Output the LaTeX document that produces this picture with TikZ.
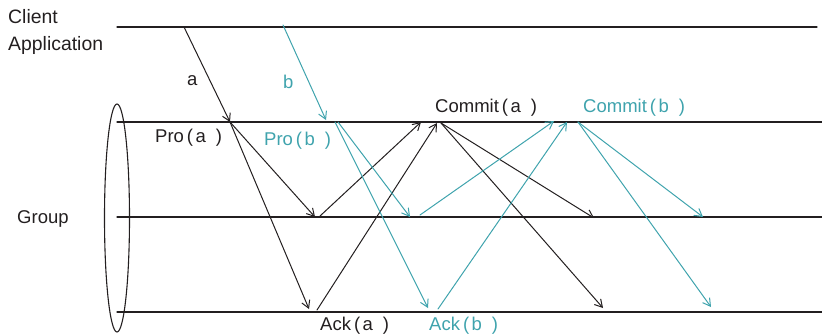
\documentclass[tikz,border=0pt]{standalone}
\usepackage{fontspec}
\setmainfont{Liberation Sans}
\usetikzlibrary{arrows.meta}
\definecolor{ink}{HTML}{231F20}
\definecolor{tealmsg}{HTML}{3FA3AD}
\newcommand{\msgname}[2]{#1\hspace{3pt}(\hspace{2.5pt}#2\hspace{10pt})}
\tikzset{
  seq diagram/.style={
    x=1pt, y=-1pt,
    font=\fontsize{18.5}{27}\selectfont,
    line cap=round
  },
  timeline/.style={draw=ink, line width=1.3pt},
  msgarrow/.style={-{Straight Barb[length=2.6mm,width=3mm]}, draw=ink, line width=1pt},
  bmsgarrow/.style={msgarrow, draw=tealmsg},
  lbl/.style={anchor=base west, inner sep=0pt, text=ink},
  blbl/.style={lbl, text=tealmsg},
  biglbl/.style={lbl, font=\fontsize{19.4}{27}\selectfont}
}
\begin{document}
\begin{tikzpicture}[seq diagram]
\useasboundingbox (0,0) rectangle (822,333);
\coordinate (c0) at (117,27);  \coordinate (c1) at (817,27);
\coordinate (g10) at (117,122); \coordinate (g11) at (822,122);
\coordinate (g20) at (117,217); \coordinate (g21) at (822,217);
\coordinate (g30) at (117,312); \coordinate (g31) at (822,312);
\draw[timeline] (c0) -- (c1);
\draw[timeline] (g10) -- (g11);
\draw[timeline] (g20) -- (g21);
\draw[timeline] (g30) -- (g31);
\draw[ink, line width=1.1pt] (117,218) ellipse (12.5 and 114);
\node[biglbl] (client) at (8,23) {Client};
\node[biglbl] (app) at (8,50) {Application};
\node[lbl] (group) at (17,223) {Group};
\coordinate (senda) at (184,27);
\coordinate (proa) at (230,122);
\coordinate (g2a) at (315,217);
\coordinate (g3a) at (309,309);
\coordinate (acka2) at (320,216);
\coordinate (acka3) at (317,310);
\coordinate (comain) at (421,122);
\coordinate (comaout) at (437,123);
\coordinate (comaend) at (441,123);
\coordinate (coma2) at (594,218);
\coordinate (coma3) at (603,308);
\draw[msgarrow] (senda) -- (proa);
\draw[msgarrow] (proa) -- (g2a);
\draw[msgarrow] (proa) -- (g3a);
\draw[msgarrow] (acka2) -- (comain);
\draw[msgarrow] (acka3) -- (comaout);
\draw[msgarrow] (comaend) -- (coma2);
\draw[msgarrow] (comaend) -- (coma3);
\coordinate (sendb) at (283,25);
\coordinate (recb) at (326,120);
\coordinate (prob1) at (338,122);
\coordinate (prob2) at (335,122);
\coordinate (g2b) at (410,217);
\coordinate (g3b) at (428,308);
\coordinate (ackb2) at (420,215);
\coordinate (ackb3) at (438,309);
\coordinate (combin) at (554,121);
\coordinate (combout) at (567,122);
\coordinate (combend) at (578,122);
\coordinate (comb2) at (703,217);
\coordinate (comb3) at (711,307);
\draw[bmsgarrow] (sendb) -- (recb);
\draw[bmsgarrow] (prob1) -- (g2b);
\draw[bmsgarrow] (prob2) -- (g3b);
\draw[bmsgarrow] (ackb2) -- (combin);
\draw[bmsgarrow] (ackb3) -- (combout);
\draw[bmsgarrow] (combend) -- (comb2);
\draw[bmsgarrow] (combend) -- (comb3);
\node[lbl] (la) at (187,85) {a};
\node[blbl] (lb) at (283,88) {b};
\node[lbl] (lproa) at (155,142) {\msgname{Pro}{a}};
\node[blbl] (lprob) at (264,145) {\msgname{Pro}{b}};
\node[lbl] (lcoma) at (435,112) {\msgname{Commit}{a}};
\node[blbl] (lcomb) at (583,112) {\msgname{Commit}{b}};
\node[lbl] (lacka) at (320,330) {\msgname{Ack}{a}};
\node[blbl] (lackb) at (429,330) {\msgname{Ack}{b}};
\end{tikzpicture}
\end{document}
